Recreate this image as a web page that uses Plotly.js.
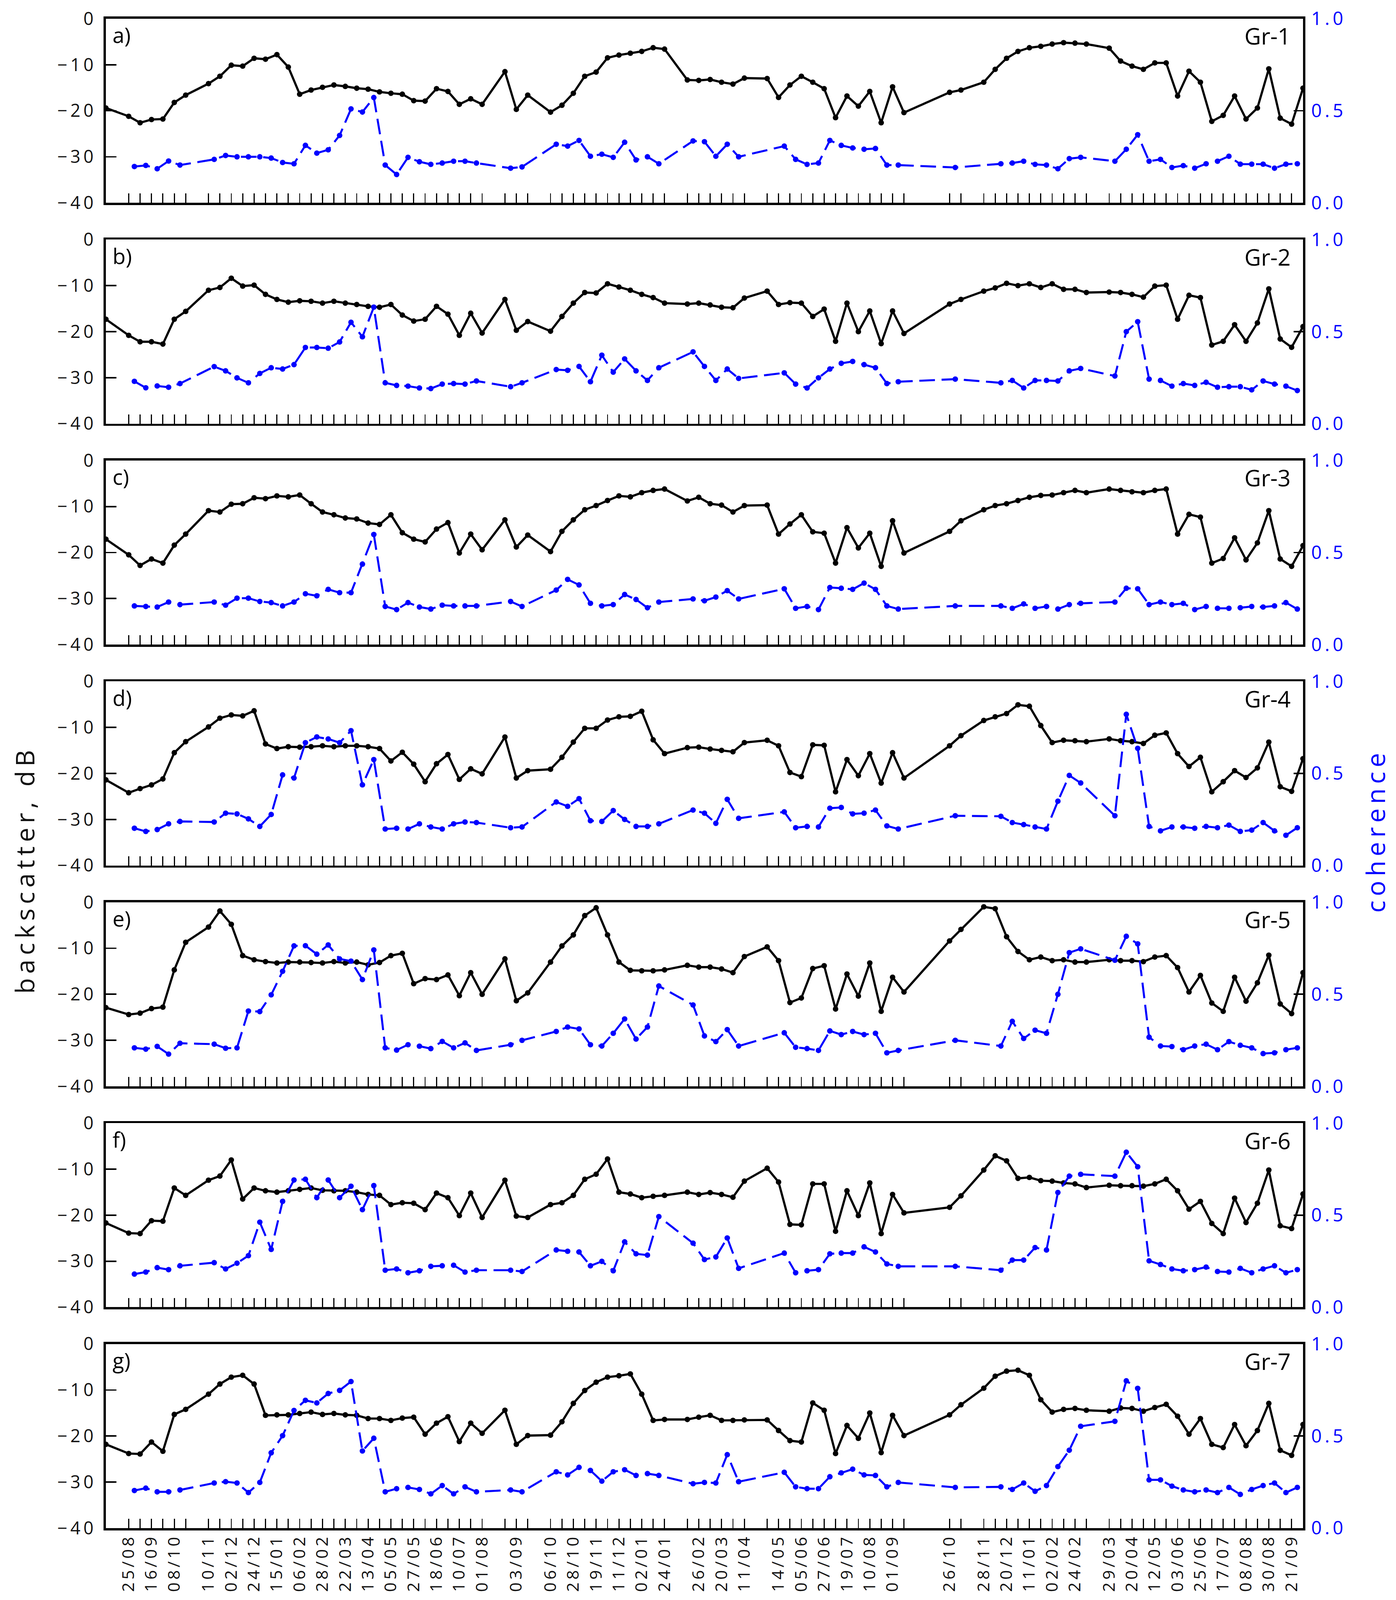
<!DOCTYPE html>
<html>
<head>
<meta charset="utf-8">
<script src="https://cdn.plot.ly/plotly-3.0.1.min.js"></script>
<style>html,body{margin:0;padding:0;background:#fff;overflow:hidden;}#chart{position:absolute;left:0;top:0;}</style>
</head>
<body>
<div id="chart"></div>
<script>
// ---------------- DATA ----------------
const acqDates = [
"2008-08-03",
"2008-08-25","2008-09-05","2008-09-16","2008-09-27","2008-10-08","2008-10-19",
"2008-11-10","2008-11-21","2008-12-02","2008-12-13","2008-12-24","2009-01-04","2009-01-15","2009-01-26","2009-02-06","2009-02-17","2009-02-28","2009-03-11","2009-03-22","2009-04-02","2009-04-13","2009-04-24","2009-05-05","2009-05-16","2009-05-27","2009-06-07","2009-06-18","2009-06-29","2009-07-10","2009-07-21","2009-08-01",
"2009-08-23","2009-09-03","2009-09-14",
"2009-10-06","2009-10-17","2009-10-28","2009-11-08","2009-11-19","2009-11-30","2009-12-11","2009-12-22","2010-01-02","2010-01-13","2010-01-24",
"2010-02-15","2010-02-26","2010-03-09","2010-03-20","2010-03-31","2010-04-11",
"2010-05-03","2010-05-14","2010-05-25","2010-06-05","2010-06-16","2010-06-27","2010-07-08","2010-07-19","2010-07-30","2010-08-10","2010-08-21","2010-09-01","2010-09-12",
"2010-10-26","2010-11-06",
"2010-11-28","2010-12-09","2010-12-20","2010-12-31","2011-01-11","2011-01-22","2011-02-02","2011-02-13","2011-02-24","2011-03-07",
"2011-03-29","2011-04-09","2011-04-20","2011-05-01","2011-05-12","2011-05-23","2011-06-03","2011-06-14","2011-06-25","2011-07-06","2011-07-17","2011-07-28","2011-08-08","2011-08-19","2011-08-30","2011-09-10","2011-09-21","2011-10-02"
];

// tick marks (acquisitions shown on the axis)
const tickDates = acqDates.slice(1, acqDates.length - 1);

const xLabelDates = ["2008-08-25","2008-09-16","2008-10-08","2008-11-10","2008-12-02","2008-12-24","2009-01-15","2009-02-06","2009-02-28","2009-03-22","2009-04-13","2009-05-05","2009-05-27","2009-06-18","2009-07-10","2009-08-01","2009-09-03","2009-10-06","2009-10-28","2009-11-19","2009-12-11","2010-01-02","2010-01-24","2010-02-26","2010-03-20","2010-04-11","2010-05-14","2010-06-05","2010-06-27","2010-07-19","2010-08-10","2010-09-01","2010-10-26","2010-11-28","2010-12-20","2011-01-11","2011-02-02","2011-02-24","2011-03-29","2011-04-20","2011-05-12","2011-06-03","2011-06-25","2011-07-17","2011-08-08","2011-08-30","2011-09-21"];
const xLabels = ["25/08","16/09","08/10","10/11","02/12","24/12","15/01","06/02","28/02","22/03","13/04","05/05","27/05","18/06","10/07","01/08","03/09","06/10","28/10","19/11","11/12","02/01","24/01","26/02","20/03","11/04","14/05","05/06","27/06","19/07","10/08","01/09","26/10","28/11","20/12","11/01","02/02","24/02","29/03","20/04","12/05","03/06","25/06","17/07","08/08","30/08","21/09"];

// first date of each interferometric pair (pair = this acquisition and the next one)
const cohFrom = [
"2008-08-25","2008-09-05","2008-09-16","2008-09-27","2008-10-08",
"2008-11-10","2008-11-21","2008-12-02","2008-12-13","2008-12-24","2009-01-04","2009-01-15","2009-01-26","2009-02-06","2009-02-17","2009-02-28","2009-03-11","2009-03-22","2009-04-02","2009-04-13","2009-04-24","2009-05-05","2009-05-16","2009-05-27","2009-06-07","2009-06-18","2009-06-29","2009-07-10","2009-07-21",
"2009-08-23","2009-09-03",
"2009-10-06","2009-10-17","2009-10-28","2009-11-08","2009-11-19","2009-11-30","2009-12-11","2009-12-22","2010-01-02","2010-01-13",
"2010-02-15","2010-02-26","2010-03-09","2010-03-20","2010-03-31",
"2010-05-14","2010-05-25","2010-06-05","2010-06-16","2010-06-27","2010-07-08","2010-07-19","2010-07-30","2010-08-10","2010-08-21","2010-09-01",
"2010-10-26",
"2010-12-09","2010-12-20","2010-12-31","2011-01-11","2011-01-22","2011-02-02","2011-02-13","2011-02-24",
"2011-03-29","2011-04-09","2011-04-20","2011-05-01","2011-05-12","2011-05-23","2011-06-03","2011-06-14","2011-06-25","2011-07-06","2011-07-17","2011-07-28","2011-08-08","2011-08-19","2011-08-30","2011-09-10","2011-09-21"
];

const groups = ["Gr-1","Gr-2","Gr-3","Gr-4","Gr-5","Gr-6","Gr-7"];
const panelLetters = ["a)","b)","c)","d)","e)","f)","g)"];

// backscatter, dB (one value per acquisition)
const bsGr1 = [-19.4,
-21.2,-22.6,-21.9,-21.8,-18.2,-16.6,
-14.1,-12.5,-10.1,-10.3,-8.6,-8.8,-7.8,-10.5,-16.4,-15.5,-14.9,-14.4,-14.7,-15.1,-15.3,-15.9,-16.2,-16.4,-17.8,-17.9,-15.2,-15.8,-18.6,-17.4,-18.6,
-11.5,-19.7,-16.6,
-20.3,-18.8,-16.2,-12.5,-11.6,-8.5,-7.9,-7.5,-7.1,-6.3,-6.6,
-13.3,-13.4,-13.2,-13.8,-14.2,-12.9,
-13.0,-17.1,-14.4,-12.5,-13.8,-15.2,-21.5,-16.8,-19.0,-15.8,-22.6,-14.8,-20.4,
-16.0,-15.5,
-13.8,-11.0,-8.6,-7.1,-6.3,-6.0,-5.5,-5.2,-5.3,-5.5,
-6.4,-9.2,-10.3,-11.0,-9.6,-9.6,-16.8,-11.4,-13.8,-22.3,-21.0,-16.8,-21.8,-19.4,-10.9,-21.6,-22.9,-15.1];
const bsGr2 = [-17.3,
-20.8,-22.2,-22.2,-22.7,-17.3,-15.6,
-11.0,-10.4,-8.4,-10.1,-9.9,-11.9,-13.0,-13.6,-13.3,-13.4,-13.8,-13.4,-13.8,-14.1,-14.5,-14.7,-14.1,-16.4,-17.7,-17.3,-14.5,-16.2,-20.8,-16.0,-20.3,
-13.0,-19.7,-17.8,
-19.9,-16.7,-13.8,-11.5,-11.6,-9.6,-10.3,-11.0,-11.9,-12.6,-13.8,
-14.0,-13.8,-14.2,-14.7,-14.8,-12.7,
-11.2,-14.1,-13.7,-13.8,-16.7,-15.1,-22.1,-13.8,-20.0,-15.5,-22.6,-15.5,-20.4,
-14.0,-13.0,
-11.2,-10.5,-9.5,-10.0,-9.6,-10.4,-9.6,-10.8,-10.8,-11.5,
-11.4,-11.5,-11.9,-12.5,-10.1,-9.9,-17.3,-12.1,-12.6,-22.9,-22.1,-18.5,-22.1,-18.1,-10.7,-21.6,-23.4,-18.9];
const bsGr3 = [-17.1,
-20.5,-22.8,-21.4,-22.3,-18.4,-16.0,
-10.9,-11.2,-9.5,-9.4,-8.1,-8.3,-7.7,-7.9,-7.5,-9.4,-11.2,-11.8,-12.5,-12.7,-13.6,-13.9,-11.8,-15.7,-17.1,-17.7,-14.9,-13.5,-20.1,-16.0,-19.4,
-12.9,-18.8,-16.2,
-19.8,-15.4,-12.9,-10.7,-9.8,-8.7,-7.7,-7.9,-7.0,-6.5,-6.2,
-8.8,-8.0,-9.4,-9.7,-11.2,-9.8,
-9.7,-16.0,-13.8,-11.8,-15.5,-15.8,-22.3,-14.6,-19.0,-15.8,-23.0,-13.1,-20.1,
-15.4,-13.1,
-10.7,-9.8,-9.4,-8.7,-8.0,-7.6,-7.5,-7.0,-6.5,-7.0,
-6.2,-6.5,-6.8,-7.0,-6.5,-6.2,-16.0,-11.7,-12.3,-22.3,-21.3,-16.8,-21.6,-17.9,-10.9,-21.4,-23.0,-18.5];
const bsGr4 = [-21.4,
-24.2,-23.3,-22.5,-21.2,-15.5,-13.1,
-9.9,-8.0,-7.3,-7.5,-6.4,-13.6,-14.6,-14.2,-14.3,-14.2,-14.0,-14.2,-14.0,-14.0,-14.2,-14.6,-17.3,-15.4,-18.0,-21.8,-17.9,-15.9,-21.3,-19.0,-20.1,
-12.1,-21.0,-19.4,
-19.1,-16.5,-13.2,-10.2,-10.2,-8.4,-7.7,-7.6,-6.5,-12.7,-15.7,
-14.4,-14.3,-14.7,-15.0,-15.3,-13.3,
-12.8,-14.0,-19.8,-20.7,-13.8,-13.9,-24.0,-17.0,-20.5,-15.7,-22.1,-15.5,-21.0,
-14.0,-11.8,
-8.5,-7.7,-7.0,-5.1,-5.4,-9.6,-13.3,-12.8,-12.9,-13.1,
-12.5,-12.9,-13.1,-13.5,-11.7,-11.2,-15.7,-18.5,-16.5,-24.0,-21.8,-19.4,-20.9,-18.8,-13.2,-22.9,-23.9,-16.8];
const bsGr5 = [-22.9,
-24.4,-24.1,-23.1,-22.8,-14.7,-8.7,
-5.4,-1.9,-4.8,-11.6,-12.5,-12.9,-13.2,-13.0,-13.0,-13.1,-13.2,-12.9,-13.2,-13.0,-13.6,-13.1,-11.6,-11.1,-17.7,-16.6,-16.8,-15.8,-20.3,-15.3,-20.0,
-12.3,-21.4,-19.7,
-13.0,-9.5,-7.1,-2.9,-1.2,-7.1,-13.0,-14.8,-14.9,-14.9,-14.7,
-13.7,-14.1,-14.1,-14.5,-15.3,-11.8,
-9.7,-12.7,-21.8,-20.8,-14.4,-13.8,-23.2,-15.6,-20.4,-13.2,-23.7,-16.3,-19.5,
-8.4,-5.9,
-1.0,-1.4,-7.5,-10.7,-12.5,-11.9,-12.7,-12.5,-13.0,-13.0,
-12.5,-12.7,-12.7,-12.9,-11.9,-11.6,-14.2,-19.5,-15.9,-21.9,-23.7,-16.3,-21.5,-17.5,-11.5,-22.1,-24.2,-15.3];
const bsGr6 = [-21.7,
-23.9,-24.0,-21.2,-21.3,-14.1,-15.7,
-12.4,-11.5,-8.0,-16.5,-14.1,-14.7,-15.0,-14.7,-14.4,-14.1,-14.6,-14.7,-14.7,-15.0,-15.5,-15.7,-17.7,-17.3,-17.4,-18.8,-15.2,-16.2,-20.1,-15.2,-20.5,
-12.4,-20.2,-20.5,
-17.7,-17.3,-15.7,-12.2,-11.1,-7.8,-15.0,-15.4,-16.2,-15.9,-15.7,
-15.0,-15.5,-15.1,-15.5,-16.1,-12.6,
-9.8,-12.8,-22.0,-22.1,-13.2,-13.2,-23.5,-14.7,-20.1,-13.0,-24.0,-15.5,-19.5,
-18.3,-15.8,
-10.2,-7.1,-8.2,-12.0,-11.8,-12.5,-12.6,-13.0,-13.2,-14.0,
-13.5,-13.6,-13.6,-13.7,-13.2,-12.2,-14.7,-18.7,-17.0,-21.8,-24.0,-16.3,-21.6,-17.4,-10.2,-22.3,-22.9,-15.4];
const bsGr7 = [-21.8,
-23.8,-23.9,-21.3,-23.3,-15.3,-14.2,
-10.9,-8.7,-7.2,-6.8,-8.7,-15.5,-15.4,-15.4,-15.1,-14.8,-15.3,-15.1,-15.4,-15.5,-16.2,-16.2,-16.6,-16.1,-15.9,-19.6,-17.2,-15.8,-21.2,-17.2,-19.4,
-14.4,-21.8,-19.9,
-19.8,-16.9,-12.9,-10.1,-8.3,-7.2,-6.9,-6.5,-10.9,-16.6,-16.4,
-16.4,-15.9,-15.5,-16.6,-16.6,-16.5,
-16.5,-18.8,-21.0,-21.3,-12.8,-14.4,-23.8,-17.7,-20.5,-15.0,-23.6,-15.5,-19.9,
-15.4,-13.2,
-9.6,-7.0,-5.9,-5.7,-6.8,-12.1,-14.8,-14.2,-14.0,-14.4,
-14.6,-13.9,-14.0,-14.6,-13.8,-13.1,-15.7,-19.6,-16.2,-21.8,-22.5,-17.5,-22.1,-18.8,-12.9,-23.1,-24.2,-17.5];

// coherence (one value per pair in cohFrom)
const cohGr1 = [0.197,0.203,0.185,0.227,0.205,
0.236,0.257,0.25,0.25,0.25,0.243,0.219,0.212,0.312,0.27,0.288,0.366,0.51,0.493,0.572,0.205,0.154,0.247,0.223,0.209,0.216,0.226,0.226,0.216,
0.188,0.195,
0.318,0.308,0.339,0.253,0.264,0.247,0.329,0.233,0.25,0.212,
0.336,0.332,0.253,0.318,0.25,
0.308,0.236,0.209,0.216,0.339,0.312,0.298,0.291,0.295,0.205,0.205,
0.192,
0.212,0.216,0.226,0.209,0.205,0.185,0.24,0.247,
0.226,0.291,0.37,0.226,0.236,0.192,0.202,0.188,0.212,0.226,0.253,0.21,0.21,0.21,0.188,0.21,0.212];
const cohGr2 = [0.23,0.195,0.205,0.198,0.218,
0.31,0.287,0.249,0.222,0.273,0.304,0.297,0.321,0.414,0.414,0.41,0.444,0.551,0.472,0.633,0.222,0.208,0.204,0.194,0.191,0.215,0.218,0.215,0.232,
0.201,0.222,
0.294,0.29,0.311,0.228,0.372,0.28,0.352,0.287,0.235,0.304,
0.39,0.311,0.235,0.297,0.246,
0.276,0.215,0.194,0.249,0.297,0.328,0.338,0.321,0.304,0.218,0.228,
0.242,
0.222,0.235,0.194,0.235,0.235,0.232,0.287,0.3,
0.259,0.5,0.554,0.242,0.235,0.204,0.218,0.208,0.225,0.198,0.201,0.201,0.184,0.232,0.215,0.204,0.18];
const cohGr3 = [0.21,0.207,0.204,0.231,0.217,
0.231,0.214,0.252,0.252,0.234,0.228,0.21,0.231,0.276,0.265,0.3,0.282,0.282,0.437,0.598,0.207,0.19,0.228,0.204,0.193,0.214,0.21,0.21,0.21,
0.234,0.207,
0.296,0.354,0.324,0.224,0.21,0.217,0.272,0.245,0.2,0.231,
0.248,0.238,0.258,0.293,0.248,
0.303,0.197,0.207,0.19,0.31,0.306,0.3,0.334,0.3,0.21,0.193,
0.21,
0.21,0.197,0.221,0.197,0.207,0.193,0.217,0.224,
0.231,0.306,0.303,0.217,0.231,0.217,0.224,0.19,0.207,0.197,0.197,0.2,0.207,0.204,0.21,0.228,0.193];
const cohGr4 = [0.202,0.185,0.195,0.226,0.239,
0.236,0.284,0.28,0.253,0.212,0.277,0.492,0.475,0.667,0.698,0.687,0.667,0.732,0.438,0.575,0.198,0.202,0.198,0.226,0.209,0.198,0.226,0.236,0.233,
0.205,0.209,
0.345,0.321,0.363,0.243,0.239,0.298,0.25,0.212,0.212,0.226,
0.301,0.284,0.229,0.359,0.256,
0.291,0.205,0.212,0.209,0.311,0.315,0.28,0.284,0.301,0.215,0.198,
0.27,
0.267,0.233,0.222,0.209,0.198,0.349,0.489,0.448,
0.27,0.821,0.636,0.212,0.188,0.209,0.209,0.202,0.212,0.205,0.219,0.185,0.192,0.233,0.188,0.164,0.205];
const cohGr5 = [0.209,0.202,0.217,0.175,0.234,
0.229,0.207,0.209,0.409,0.406,0.497,0.625,0.763,0.764,0.718,0.768,0.692,0.68,0.58,0.741,0.209,0.197,0.226,0.218,0.205,0.244,0.209,0.236,0.195,
0.226,0.25,
0.298,0.322,0.312,0.226,0.219,0.288,0.366,0.257,0.322,0.545,
0.442,0.274,0.243,0.308,0.219,
0.291,0.212,0.205,0.195,0.301,0.281,0.298,0.281,0.288,0.182,0.195,
0.25,
0.219,0.353,0.26,0.305,0.288,0.5,0.726,0.747,
0.685,0.815,0.774,0.267,0.219,0.216,0.199,0.219,0.229,0.199,0.243,0.223,0.209,0.178,0.182,0.199,0.209];
const cohGr6 = [0.18,0.191,0.215,0.204,0.225,
0.242,0.208,0.239,0.28,0.462,0.314,0.575,0.691,0.695,0.595,0.691,0.595,0.657,0.53,0.661,0.201,0.208,0.187,0.198,0.222,0.225,0.228,0.191,0.201,
0.201,0.194,
0.311,0.304,0.3,0.225,0.249,0.198,0.355,0.29,0.283,0.492,
0.348,0.259,0.273,0.376,0.211,
0.294,0.187,0.198,0.204,0.29,0.294,0.294,0.328,0.3,0.235,0.222,
0.222,
0.201,0.256,0.256,0.324,0.311,0.623,0.712,0.722,
0.712,0.842,0.763,0.252,0.232,0.208,0.198,0.204,0.218,0.194,0.191,0.211,0.187,0.208,0.225,0.187,0.204];
const cohGr7 = [0.204,0.217,0.197,0.197,0.207,
0.245,0.252,0.245,0.193,0.248,0.409,0.502,0.639,0.694,0.68,0.731,0.748,0.796,0.419,0.488,0.197,0.214,0.221,0.21,0.186,0.231,0.186,0.224,0.197,
0.207,0.197,
0.306,0.289,0.33,0.313,0.255,0.306,0.317,0.286,0.296,0.286,
0.241,0.248,0.245,0.399,0.252,
0.303,0.224,0.214,0.214,0.279,0.3,0.32,0.289,0.286,0.224,0.248,
0.221,
0.224,0.21,0.245,0.2,0.231,0.334,0.423,0.553,
0.58,0.8,0.759,0.262,0.262,0.228,0.207,0.197,0.207,0.193,0.221,0.183,0.21,0.231,0.245,0.193,0.221];

const backscatter = [bsGr1,bsGr2,bsGr3,bsGr4,bsGr5,bsGr6,bsGr7];
const coherence = [cohGr1,cohGr2,cohGr3,cohGr4,cohGr5,cohGr6,cohGr7];

// ---------------- BUILD ----------------
const RW = 3573, RH = 4615;                      // reference frame
const W = window.innerWidth || RW, H = window.innerHeight || RH;
const SX = W / RW, SY = H / RH;
const S = Math.sqrt(SX * SY);                    // size scale for fonts / strokes
const X0 = 271, X1 = 3335;
const TOP0 = 54, STEP = 637.1, PH = 531;
const FONT = "Open Sans, Lato, sans-serif";
const BLUE = "#0000ff";
const sp = s => s.split("").join("\u2009");
const px = v => v * S;

const div = document.getElementById("chart");
div.style.width = W + "px"; div.style.height = H + "px";

function ms(d){ const p = d.split("-"); return Date.UTC(+p[0], +p[1]-1, +p[2]); }
function iso(t){
  const d = new Date(t);
  const z = n => String(n).padStart(2,"0");
  return d.getUTCFullYear()+"-"+z(d.getUTCMonth()+1)+"-"+z(d.getUTCDate())+" "+z(d.getUTCHours())+":"+z(d.getUTCMinutes());
}
// coherence plotted at the middle of its pair
const cohX = cohFrom.map(d => {
  const i = acqDates.indexOf(d);
  return iso((ms(d) + ms(acqDates[i+1])) / 2);
});

const tickText = tickDates.map(d => {
  const j = xLabelDates.indexOf(d);
  return j >= 0 ? sp(xLabels[j]) : "";
});

const data = [];
const layout = {
  width: W, height: H,
  margin: {l:0, r:0, t:0, b:0},
  paper_bgcolor: "#fff", plot_bgcolor: "rgba(0,0,0,0)",
  showlegend: false,
  font: {family: FONT, color: "#111"},
  annotations: []
};

for (let k = 0; k < 7; k++) {
  const n = k + 1;
  const xs = n === 1 ? "" : String(n);
  const ys = n === 1 ? "" : String(n);
  const y2n = n + 7;
  const top = TOP0 + STEP * k;
  const dom = [1 - (top + PH) / RH, 1 - top / RH];

  layout["xaxis" + xs] = {
    domain: [X0 / RW, X1 / RW], anchor: "y" + ys, type: "date",
    range: [acqDates[0], acqDates[acqDates.length - 1]],
    showline: true, linewidth: px(6), linecolor: "#000", mirror: true,
    ticks: "inside", ticklen: 27 * SY, tickwidth: px(3), tickcolor: "#000",
    tickmode: "array", tickvals: tickDates, ticktext: tickText,
    showticklabels: k === 6, tickangle: -90, ticklabelstandoff: px(18),
    tickfont: {family: FONT, size: px(45), color: "#111"},
    showgrid: false, zeroline: false
  };
  layout["yaxis" + ys] = {
    domain: dom, anchor: "x" + xs, range: [-40, 0],
    tickmode: "array", tickvals: [0, -10, -20, -30, -40],
    ticktext: ["0", "\u2212\u20091\u20090", "\u2212\u20092\u20090", "\u2212\u20093\u20090", "\u2212\u20094\u20090"],
    ticks: "inside", ticklen: 27 * SX, tickwidth: px(4), tickcolor: "#000",
    ticklabelstandoff: 17 * SX,
    showline: true, linewidth: px(6), linecolor: "#000", mirror: true,
    tickfont: {family: FONT, size: px(48), color: "#111"},
    showgrid: false, zeroline: false
  };
  layout["yaxis" + y2n] = {
    overlaying: "y" + ys, side: "right", anchor: "x" + xs, range: [0, 1],
    tickmode: "array", tickvals: [0, 0.5, 1], ticktext: ["0\u2009.\u20090", "0\u2009.\u20095", "1\u2009.\u20090"],
    ticks: "inside", ticklen: 24 * SX, tickwidth: px(4), tickcolor: "#000",
    ticklabelstandoff: 20 * SX,
    showline: false, showgrid: false, zeroline: false,
    tickfont: {family: FONT, size: px(50), color: BLUE}
  };

  data.push({
    type: "scatter", mode: "lines+markers",
    x: acqDates, y: backscatter[k],
    xaxis: "x" + xs, yaxis: "y" + ys,
    line: {color: "#000", width: px(6)},
    marker: {color: "#000", size: px(15)},
    hoverinfo: "skip"
  });
  data.push({
    type: "scatter", mode: "lines+markers",
    x: cohX, y: coherence[k],
    xaxis: "x" + xs, yaxis: "y" + y2n,
    line: {color: BLUE, width: px(5.5), dash: Math.round(px(42)) + "px," + Math.round(px(18)) + "px"},
    marker: {color: BLUE, size: px(15)},
    hoverinfo: "skip"
  });

  layout.annotations.push({
    xref: "paper", yref: "paper", x: 287 / RW, y: 1 - (top + 4) / RH,
    xanchor: "left", yanchor: "top", showarrow: false, borderpad: 0,
    text: panelLetters[k], font: {family: FONT, size: px(58), color: "#000"}
  });
  layout.annotations.push({
    xref: "paper", yref: "paper", x: 3305 / RW, y: 1 - (top + 4) / RH,
    xanchor: "right", yanchor: "top", showarrow: false, borderpad: 0,
    text: groups[k], font: {family: FONT, size: px(62), color: "#000"}
  });
}

layout.annotations.push({
  xref: "paper", yref: "paper", x: 62 / RW, y: 1 - 2515 / RH,
  xanchor: "center", yanchor: "middle", showarrow: false, textangle: -90,
  text: sp("backscatter, dB"), font: {family: FONT, size: px(70), color: "#111"}
});
layout.annotations.push({
  xref: "paper", yref: "paper", x: 3520 / RW, y: 1 - 2403 / RH,
  xanchor: "center", yanchor: "middle", showarrow: false, textangle: -90,
  text: sp("coherence"), font: {family: FONT, size: px(70), color: BLUE}
});

Plotly.newPlot("chart", data, layout, {staticPlot: true, displayModeBar: false});
</script>
</body>
</html>
